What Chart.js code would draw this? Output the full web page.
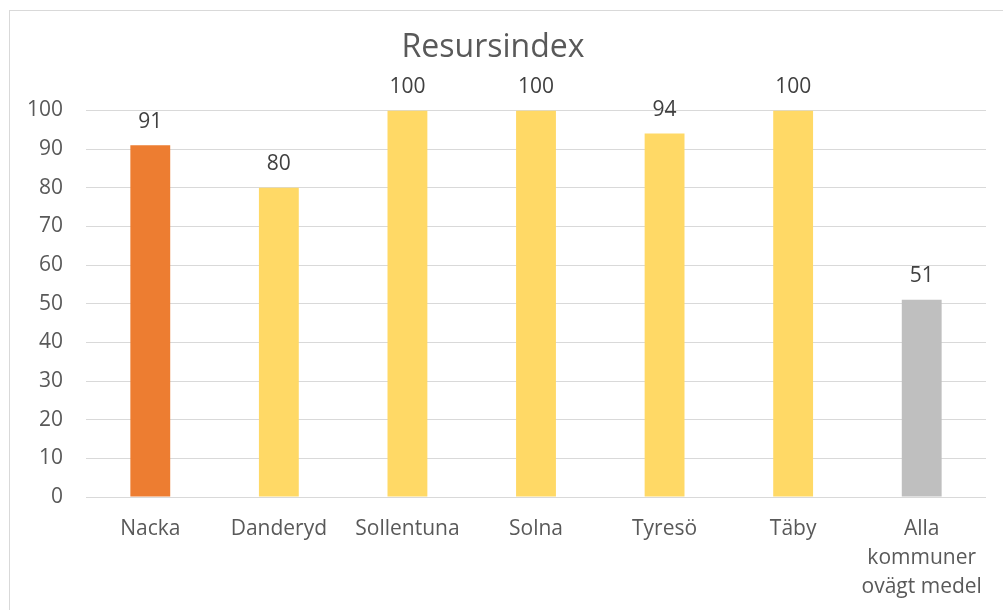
<!DOCTYPE html>
<html>
<head>
<meta charset="utf-8">
<script src="https://cdn.jsdelivr.net/npm/chart.js@4"></script>
<style>
  html, body { margin: 0; padding: 0; background: #fff; }
  #wrap { position: relative; width: 1003px; height: 610px; }
  #frame { position: absolute; left: 9px; top: 10px; width: 1010px; height: 620px;
           border: 1px solid #d9d9d9; pointer-events: none; }
</style>
</head>
<body>
<div id="wrap">
  <canvas id="myChart" width="1003" height="610"></canvas>
  <div id="frame"></div>
</div>
<script>
const kommuner = ['Nacka', 'Danderyd', 'Sollentuna', 'Solna', 'Tyresö', 'Täby', ['Alla', 'kommuner', 'ovägt medel']];
const resursindex = [91, 80, 100, 100, 94, 100, 51];
const farger = ['#ED7D31', '#FFD966', '#FFD966', '#FFD966', '#FFD966', '#FFD966', '#BFBFBF'];
const yTicks = [0, 10, 20, 30, 40, 50, 60, 70, 80, 90, 100];

const FONT = '"Open Sans", sans-serif';

// skriver värdet ovanför varje stapel
const etiketter = {
  id: 'etiketter',
  afterDatasetsDraw(chart) {
    const ctx = chart.ctx;
    ctx.save();
    ctx.font = '21px ' + FONT;
    ctx.fillStyle = '#404040';
    ctx.textAlign = 'center';
    ctx.textBaseline = 'bottom';
    chart.getDatasetMeta(0).data.forEach((bar, i) => {
      ctx.fillText(resursindex[i], bar.x, bar.y - 13);
    });
    ctx.restore();
  }
};

const ctx = document.getElementById('myChart');
new Chart(ctx, {
  type: 'bar',
  data: {
    labels: kommuner,
    datasets: [{
      label: 'Resursindex',
      data: resursindex,
      backgroundColor: farger,
      categoryPercentage: 1,
      barPercentage: 0.31
    }]
  },
  options: {
    responsive: false,
    animation: false,
    layout: { padding: { left: 0, right: 17, top: 0, bottom: 0 } },
    plugins: {
      legend: { display: false },
      tooltip: { enabled: false },
      title: {
        display: true,
        text: 'Resursindex',
        color: '#595959',
        font: { family: FONT, size: 32, weight: 'normal' },
        padding: { top: 29, bottom: 43 }
      }
    },
    scales: {
      x: {
        grid: { display: false, drawTicks: false },
        border: { display: false },
        ticks: {
          color: '#595959',
          font: { family: FONT, size: 21, lineHeight: 1.38 },
          padding: 18,
          maxRotation: 0,
          autoSkip: false
        },
        afterFit: s => { s.height = 113; }
      },
      y: {
        min: 0,
        max: 100,
        afterBuildTicks: s => { s.ticks = yTicks.map(v => ({ value: v })); },
        grid: { color: '#d9d9d9', drawTicks: false },
        border: { display: false },
        ticks: {
          color: '#595959',
          font: { family: FONT, size: 21 },
          padding: 23
        },
        afterFit: s => { s.width = 86; }
      }
    }
  },
  plugins: [etiketter]
});
</script>
</body>
</html>
